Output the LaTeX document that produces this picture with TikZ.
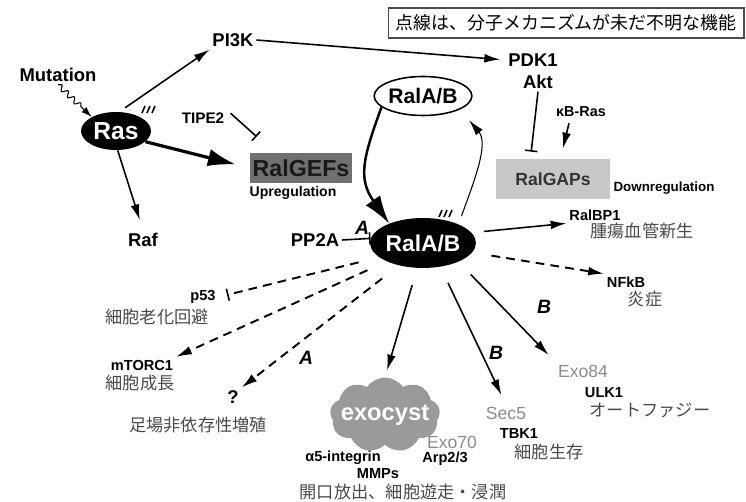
\documentclass[tikz,border=0pt]{standalone}
\usepackage{fontspec}
\setmainfont{Liberation Sans}
\newfontfamily\jpfont{Noto Sans CJK JP}
\usetikzlibrary{arrows.meta,shapes.geometric,shapes.symbols,decorations.pathmorphing,calc}
\definecolor{gefgray}{HTML}{707070}
\definecolor{gapgray}{HTML}{C8C8C8}
\definecolor{cloudgray}{HTML}{9A9A9A}
\definecolor{subgray}{HTML}{8C8C8C}
\definecolor{jptext}{HTML}{4A4A4A}
\tikzset{
  lbl/.style={font=\bfseries\fontsize{10.5}{12}\selectfont, inner sep=1.5pt},
  sml/.style={font=\bfseries\fontsize{8.3}{9}\selectfont, inner sep=1.5pt},
  jp/.style={font=\jpfont\fontsize{9.8}{11}\selectfont, text=jptext, inner sep=1pt},
  sub/.style={font=\fontsize{10}{11}\selectfont, text=subgray, inner sep=1pt},
  lett/.style={font=\bfseries\itshape\fontsize{11}{12}\selectfont, inner sep=1pt},
  arr/.style={-{Latex[length=9pt,width=5pt]}, line width=0.9pt},
  fatarr/.style={-{Latex[length=16pt,width=10pt]}, line width=1.8pt},
  dsh/.style={dash pattern=on 5pt off 3.5pt, line width=1.1pt},
  inh/.style={-{Bar[width=7pt,line width=0.9pt]}, line width=0.9pt},
}
\begin{document}
\begin{tikzpicture}[x=0.02cm, y=-0.02cm]
\useasboundingbox (0,0) rectangle (746,502);
% legend
\node[draw=black!70, line width=0.6pt, minimum width=7.12cm, minimum height=0.6cm, font=\jpfont\fontsize{10.2}{11}\selectfont] (legend) at (566,23) {点線は、分子メカニズムが未だ不明な機能};
% Ras side
\node[lbl] (mut) at (58,75) {Mutation};
\node[ellipse, fill=black, text=white, minimum width=1.4cm, minimum height=0.76cm, inner sep=0pt, font=\bfseries\fontsize{14}{15}\selectfont] (ras) at (116,131) {Ras};
\node[lbl] (pi3k) at (233,40) {PI3K};
\node[lbl] (raf) at (143,240) {Raf};
\node[font=\bfseries\fontsize{8.7}{9}\selectfont] (tipe) at (203,118) {TIPE2};
\node[fill=gefgray, minimum width=2.04cm, minimum height=0.6cm, inner sep=0pt, text=black!90, font=\bfseries\fontsize{13.2}{14}\selectfont] (gef) at (301,168) {RalGEFs};
\node[font=\bfseries\fontsize{8}{9}\selectfont] (up) at (293,193) {Upregulation};
% GAP side
\node[lbl] (pdk) at (533,60) {PDK1};
\node[lbl] (akt) at (538,82) {Akt};
\node[font=\bfseries\fontsize{8.2}{9}\selectfont] (kb) at (581,112) {κB-Ras};
\node[fill=gapgray, minimum width=2.28cm, minimum height=0.8cm, inner sep=0pt, text=black!80, font=\bfseries\fontsize{10}{11}\selectfont] (gap) at (553,179) {RalGAPs};
\node[font=\bfseries\fontsize{7.6}{8}\selectfont] (down) at (664,188) {Downregulation};
% Ral cycle
\node[ellipse, draw, line width=0.9pt, minimum width=1.52cm, minimum height=0.78cm, inner sep=0pt, font=\bfseries\fontsize{12}{13}\selectfont] (ralt) at (423,96) {RalA/B};
\node[ellipse, fill=black, text=white, minimum width=1.6cm, minimum height=1cm, inner sep=0pt, font=\bfseries\fontsize{13}{14}\selectfont] (ralb) at (423,243) {RalA/B};
\node[lbl] (pp2a) at (315,240) {PP2A};
\node[lett] (la1) at (362,228) {A};
% effectors
\node[sml] (rbp) at (595,215) {RalBP1};
\node[jp] (angio) at (642,231) {腫瘍血管新生};
\node[sml] (nfkb) at (626,282) {NFkB};
\node[jp] (infl) at (645,299) {炎症};
\node[sml] (p53) at (203,297) {p53};
\node[jp] (senes) at (157,317) {細胞老化回避};
\node[sml] (mtor) at (142,365) {mTORC1};
\node[jp] (growth) at (140,383) {細胞成長};
\node[lbl] (q) at (233,397) {?};
\node[lett] (la2) at (306,358) {A};
\node[jp] (anch) at (198,425) {足場非依存性増殖};
\node[cloud, cloud puffs=9, cloud puff arc=110, cloud ignores aspect, fill=cloudgray, minimum width=2.2cm, minimum height=1.5cm, inner sep=0pt] (exo) at (385,415) {};
\node[text=white, font=\bfseries\fontsize{13.5}{14}\selectfont] (exotxt) at (exo) {exocyst};
\node[sub] (exo70) at (452,442) {Exo70};
\node[sml] (integ) at (343,458) {α5-integrin};
\node[sml] (mmp) at (378,474) {MMPs};
\node[sml] (arp) at (445,459) {Arp2/3};
\node[jp] (exoc) at (403,492) {開口放出、細胞遊走・浸潤};
\node[lett] (lb1) at (496,353) {B};
\node[sub] (sec5) at (506,413) {Sec5};
\node[sml] (tbk) at (519,433) {TBK1};
\node[jp] (surv) at (549,452) {細胞生存};
\node[lett] (lb2) at (544,307) {B};
\node[sub] (exo84) at (583,371) {Exo84};
\node[sml] (ulk) at (604,393) {ULK1};
\node[jp] (auto) at (650,410) {オートファジー};
% activation marks
\foreach \dx in {0,5,10}
  \draw[line width=0.9pt] (142+\dx,113) -- ++(3,-7);
\foreach \dx in {0,5,10}
  \draw[line width=0.9pt] (439+\dx,217) -- ++(3,-7);
% connectors
\draw[-{Latex[length=6pt,width=4pt]}, line width=0.6pt, decorate, decoration={snake, amplitude=1.5pt, segment length=5pt, post length=6pt}] (mut.south) -- (ras.150);
\draw[arr, shorten <=4pt] (ras.80) -- (pi3k.south west);
\draw[fatarr, shorten >=8pt] (ras.-20) -- (gef.west);
\draw[arr, shorten >=6pt] (ras.-85) -- (raf.north);
\draw[inh] (tipe.10) -- ($(gef.north west)+(7,-16)$);
\draw[arr, shorten >=3pt] (pi3k.east) -- (pdk.west);
\draw[inh, shorten >=4pt] (akt.south) -- (gap.138);
\draw[arr, shorten >=6pt] ($(kb.south)+(-12,0)$) -- (gap.70);
\draw[fatarr, line width=1.4pt] (ralt.195) to[out=250, in=125, looseness=1.2] (ralb.150);
\draw[arr, line width=0.6pt, shorten <=5pt, shorten >=8pt] (ralb.28) to[out=70, in=-50] (ralt.-20);
\draw[inh] (pp2a.east) -- (ralb.175);
\draw[arr, shorten <=7pt] (ralb.12) -- (rbp.south west);
\draw[arr, dsh, shorten <=11pt] (ralb.349) -- (nfkb.north west);
\draw[inh, dsh, shorten <=12pt, shorten >=5pt] (ralb.198) -- (p53.east);
\draw[arr, dsh, shorten <=12pt] (ralb.207) -- (mtor.north east);
\draw[arr, dsh, shorten <=12pt] (ralb.223) -- (q.north east);
\draw[arr, shorten <=10pt, shorten >=4pt] (ralb.257) -- (exo.north);
\draw[arr, shorten <=10pt, shorten >=6pt] (ralb.306) -- (sec5.north);
\draw[arr, shorten <=10pt, shorten >=6pt] (ralb.332) -- (exo84.north west);
\end{tikzpicture}
\end{document}
